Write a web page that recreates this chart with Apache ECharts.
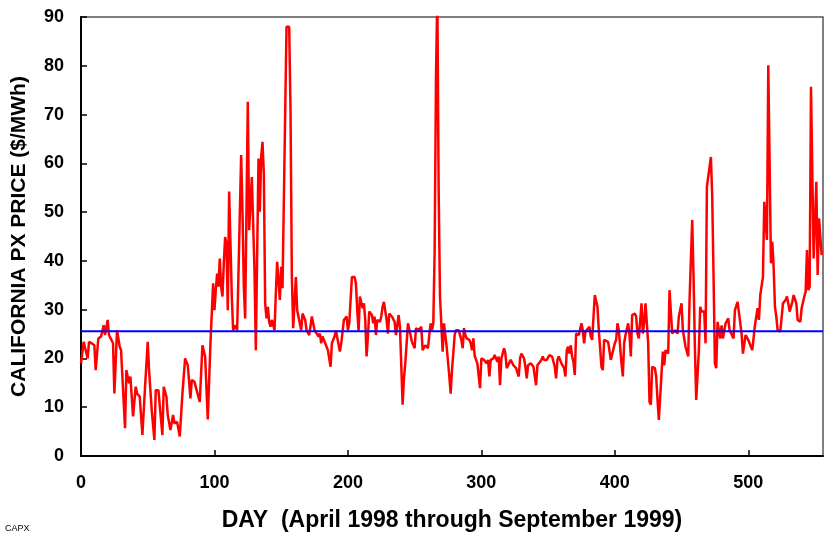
<!DOCTYPE html>
<html>
<head>
<meta charset="utf-8">
<script src="https://cdn.jsdelivr.net/npm/echarts@6/dist/echarts.min.js"></script>
<style>
  html, body { margin: 0; padding: 0; background: #fff; }
  #chart { width: 834px; height: 543px; }
</style>
</head>
<body>
<div id="chart"></div>
<script>
  // day number since April 1998
  var days = [
    0, 2, 5, 6, 8, 10, 11, 13, 15, 17, 18, 20, 21, 24, 25, 27, 29, 30, 31, 33,
    34, 36, 37, 39, 41, 42, 44, 46, 47, 48, 50, 51, 53, 55, 56, 58, 61, 62, 64, 65,
    67, 69, 70, 72, 74, 76, 78, 80, 82, 83, 85, 86, 89, 91, 93, 95, 97, 99, 100, 101,
    102, 103, 104, 105, 106, 107, 108, 109, 110, 111, 112, 113, 114, 116, 117, 118, 120, 121, 122, 123,
    124, 125, 126, 127, 128, 130, 131, 133, 134, 135, 136, 137, 138, 139, 140, 141, 142, 143, 145, 146,
    147, 148, 149, 150, 151, 152, 153, 154, 156, 157, 158, 159, 161, 162, 163, 165, 166, 168, 169, 171,
    172, 173, 174, 175, 176, 178, 179, 180, 181, 183, 184, 185, 186, 187, 188, 190, 191, 194, 195, 197,
    199, 200, 201, 203, 205, 206, 207, 208, 209, 211, 212, 213, 214, 215, 216, 218, 219, 220, 221, 222,
    224, 225, 226, 227, 229, 230, 231, 233, 235, 236, 237, 238, 239, 241, 242, 243, 245, 246, 248, 249,
    250, 251, 253, 254, 255, 256, 258, 259, 260, 261, 262, 263, 264, 265, 266, 267, 268, 269, 271, 272,
    273, 274, 276, 277, 278, 280, 281, 282, 283, 285, 286, 287, 288, 289, 291, 292, 293, 294, 295, 297,
    299, 300, 302, 304, 305, 306, 307, 309, 310, 312, 313, 314, 315, 317, 318, 319, 320, 322, 323, 324,
    325, 326, 328, 329, 330, 332, 333, 334, 335, 337, 338, 339, 341, 342, 343, 345, 346, 347, 348, 349,
    351, 352, 353, 355, 356, 357, 358, 360, 361, 362, 363, 364, 365, 366, 367, 368, 369, 370, 371, 372,
    373, 375, 376, 377, 378, 379, 381, 382, 383, 385, 387, 388, 390, 391, 392, 393, 395, 396, 397, 398,
    400, 401, 402, 403, 405, 406, 407, 408, 410, 411, 412, 413, 415, 416, 417, 418, 420, 421, 422, 423,
    425, 426, 427, 428, 430, 431, 432, 433, 435, 436, 437, 438, 440, 441, 443, 444, 445, 446, 447, 448,
    450, 451, 452, 453, 455, 456, 458, 459, 460, 461, 463, 464, 465, 467, 468, 469, 470, 472, 473, 474,
    475, 476, 477, 478, 479, 480, 481, 483, 484, 485, 486, 487, 489, 490, 491, 492, 493, 495, 496, 497,
    498, 499, 500, 502, 503, 505, 506, 507, 508, 509, 510, 511, 512, 513, 514, 515, 516, 517, 518, 519,
    520, 521, 522, 524, 525, 526, 528, 529, 530, 531, 532, 533, 534, 535, 536, 537, 539, 540, 541, 542,
    543, 544, 545, 546, 547, 548, 549, 550, 551, 552, 553, 554, 555
  ];

  // California PX price, $/MWh
  var prices = [
    19.0, 23.4, 20.0, 23.4, 23.1, 22.7, 17.6, 24.1, 24.5, 26.8, 24.8, 27.9, 24.8, 23.1, 12.8, 25.8, 22.4, 21.7, 16.3, 5.7,
    17.6, 14.9, 16.3, 8.1, 14.2, 12.8, 12.2, 4.3, 4.3, 14.2, 23.4, 17.6, 9.4, 3.3, 13.5, 13.5, 4.3, 14.2, 12.2, 8.4,
    5.3, 8.4, 6.7, 7.0, 4.0, 12.8, 20.0, 18.6, 11.8, 15.6, 15.2, 15.6, 11.1, 22.7, 20.4, 7.5, 23.1, 35.4, 29.9, 34.0,
    37.4, 34.7, 40.5, 34.7, 32.7, 39.5, 44.9, 43.6, 29.9, 54.2, 43.6, 32.7, 25.8, 26.8, 25.8, 37.4, 61.7, 50.4, 34.7, 28.2,
    28.6, 72.6, 46.3, 46.3, 57.2, 38.1, 21.7, 61.0, 50.1, 61.3, 64.4, 57.9, 31.3, 28.2, 30.6, 27.5, 26.5, 27.9, 25.8, 33.3,
    39.8, 40.2, 32.0, 38.8, 34.4, 34.7, 70.2, 88.0, 88.0, 70.9, 36.7, 26.2, 36.7, 29.9, 30.3, 25.8, 29.2, 27.9, 25.8, 24.8,
    24.8, 28.6, 28.9, 25.8, 25.8, 24.5, 25.1, 23.1, 24.5, 23.1, 23.1, 21.7, 22.1, 18.3, 23.1, 24.5, 25.8, 21.4, 23.1, 27.9,
    28.6, 25.8, 27.2, 36.7, 36.7, 35.4, 29.9, 25.5, 32.7, 30.3, 31.3, 27.9, 20.4, 24.5, 29.6, 28.9, 27.2, 28.6, 24.8, 27.9,
    27.5, 28.6, 30.6, 31.6, 27.9, 25.1, 29.2, 28.6, 27.5, 24.8, 24.5, 28.9, 26.5, 10.5, 15.9, 19.0, 27.2, 26.8, 23.4, 23.8,
    22.1, 26.2, 25.8, 26.2, 26.5, 21.7, 22.7, 23.1, 22.1, 24.8, 27.2, 25.8, 27.2, 42.2, 77.7, 95.0, 54.5, 32.7, 21.4, 27.2,
    26.8, 22.4, 16.3, 12.8, 17.6, 24.8, 25.8, 25.5, 25.8, 23.8, 22.1, 26.2, 24.8, 24.1, 23.8, 23.1, 21.7, 24.1, 20.5, 19.0,
    13.9, 20.0, 19.7, 19.0, 19.7, 16.3, 19.7, 20.0, 20.7, 19.3, 20.4, 14.5, 20.0, 22.1, 21.0, 18.0, 18.0, 19.7, 19.3, 18.6,
    18.3, 18.0, 16.3, 20.0, 21.0, 20.0, 18.3, 15.9, 18.6, 19.0, 19.0, 18.3, 14.5, 18.6, 18.6, 19.7, 20.4, 19.7, 19.3, 19.7,
    20.7, 21.0, 20.4, 18.3, 15.9, 19.7, 20.4, 19.0, 18.6, 18.0, 16.3, 21.7, 22.4, 21.0, 22.7, 20.4, 19.3, 16.6, 25.1, 24.8,
    24.8, 27.2, 25.8, 23.1, 25.5, 25.8, 26.5, 24.5, 23.8, 33.0, 30.6, 25.8, 18.3, 17.6, 23.8, 24.1, 23.4, 23.1, 19.7, 19.7,
    23.1, 23.8, 27.2, 25.8, 19.0, 16.3, 23.1, 24.8, 27.2, 24.8, 20.4, 28.9, 29.2, 28.6, 25.1, 24.1, 31.3, 25.1, 27.5, 31.3,
    23.1, 11.1, 10.5, 18.3, 18.0, 16.3, 11.5, 7.4, 16.9, 21.4, 18.6, 21.7, 21.0, 34.0, 25.1, 25.5, 25.8, 26.2, 25.1, 28.6,
    31.3, 25.8, 24.1, 22.4, 20.4, 32.0, 48.4, 36.7, 22.4, 11.5, 21.7, 30.6, 29.6, 29.6, 23.1, 55.2, 55.2, 61.3, 53.1, 36.7,
    19.0, 18.0, 27.5, 27.9, 24.1, 26.8, 24.1, 27.2, 27.5, 28.2, 25.8, 25.8, 24.1, 29.9, 29.6, 31.6, 31.3, 25.1, 21.0, 20.7,
    24.8, 24.8, 23.8, 22.4, 21.7, 26.8, 27.2, 30.3, 27.9, 33.0, 33.0, 36.7, 52.1, 52.1, 44.3, 80.1, 79.8, 39.5, 43.9, 38.8,
    30.6, 28.6, 25.8, 25.5, 25.8, 31.3, 32.0, 32.7, 31.3, 29.6, 29.9, 31.6, 33.0, 33.0, 31.3, 27.9, 27.5, 30.3, 30.6, 32.7,
    33.7, 42.2, 34.0, 34.7, 75.7, 75.7, 40.5, 47.7, 56.2, 37.1, 48.7, 48.4, 41.2
  ];

  var averagePrice = 25.6;
  var dayRange = [0, 556];

  var pricePoints = days.map(function (d, i) { return [d, prices[i]]; });
  var averagePoints = [[dayRange[0], averagePrice], [dayRange[1], averagePrice]];

  var chart = echarts.init(document.getElementById('chart'));
  var font = 'Liberation Sans, Arial, sans-serif';

  var option = {
    animation: false,
    backgroundColor: '#fff',
    textStyle: { fontFamily: font },
    grid: {
      left: 81, right: 11, top: 17, bottom: 87,
      show: true, borderColor: '#555', borderWidth: 1.5
    },
    xAxis: {
      type: 'value',
      min: dayRange[0],
      max: dayRange[1],
      interval: 100,
      name: 'DAY  (April 1998 through September 1999)',
      nameLocation: 'middle',
      nameGap: 53,
      nameTextStyle: { color: '#000', fontSize: 23, fontWeight: 'bold', fontFamily: font },
      axisLine: { lineStyle: { color: '#000', width: 2 } },
      axisTick: { inside: true, length: 6, lineStyle: { color: '#000', width: 1.5 } },
      axisLabel: { color: '#000', fontSize: 18, fontWeight: 'bold', margin: 18, showMaxLabel: false, fontFamily: font },
      splitLine: { show: false }
    },
    yAxis: {
      type: 'value',
      min: 0,
      max: 90,
      interval: 10,
      name: 'CALIFORNIA PX PRICE ($/MWh)',
      nameLocation: 'middle',
      nameGap: 51,
      nameTextStyle: { color: '#000', fontSize: 21, fontWeight: 'bold', fontFamily: font },
      axisLine: { lineStyle: { color: '#000', width: 2 } },
      axisTick: { inside: true, length: 6, lineStyle: { color: '#000', width: 1.5 } },
      axisLabel: { color: '#000', fontSize: 18, fontWeight: 'bold', margin: 17, fontFamily: font },
      splitLine: { show: false }
    },
    graphic: [{
      type: 'text',
      left: 5,
      top: 524,
      style: { text: 'CAPX', fill: '#000', fontSize: 9, fontFamily: font }
    }],
    series: [
      {
        name: 'price',
        type: 'line',
        data: pricePoints,
        showSymbol: false,
        clip: true,
        lineStyle: { color: '#ff0000', width: 2.5 },
        z: 2
      },
      {
        name: 'average',
        type: 'line',
        data: averagePoints,
        showSymbol: false,
        lineStyle: { color: '#0000ff', width: 2 },
        z: 3
      }
    ]
  };

  chart.setOption(option);
</script>
</body>
</html>
